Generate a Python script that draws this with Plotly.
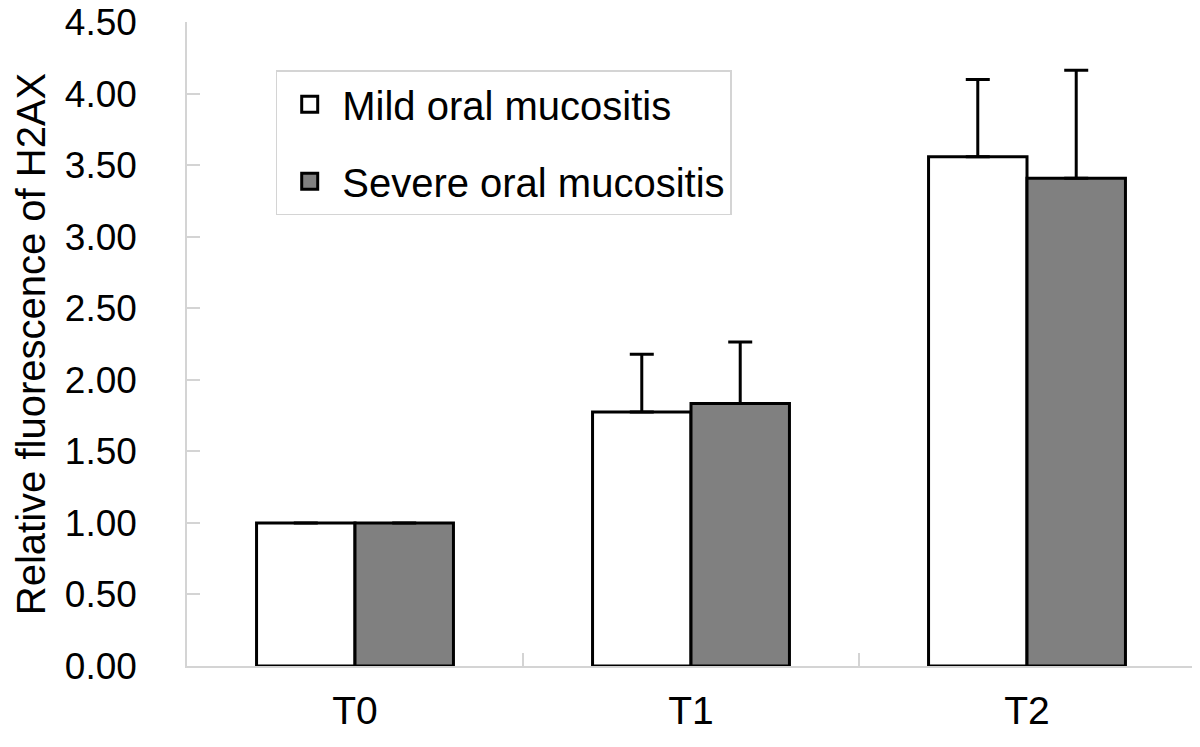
"""Relative fluorescence of H2AX by time point and mucositis severity."""

import plotly.graph_objects as go

TIME_POINTS = ["T0", "T1", "T2"]
MILD_MEAN = [1.00, 1.775, 3.56]
MILD_SD = [0.0, 0.405, 0.54]
SEVERE_MEAN = [1.00, 1.835, 3.41]
SEVERE_SD = [0.0, 0.43, 0.755]
Y_TICKS = [0.0, 0.5, 1.0, 1.5, 2.0, 2.5, 3.0, 3.5, 4.0, 4.5]

FONT = "Liberation Sans, Arial, sans-serif"
AXIS_GREY = "#d4d4d4"
BAR_GREY = "#808080"


def bar_trace(name, means, sds, fill):
    return go.Bar(
        x=TIME_POINTS,
        y=means,
        name=name,
        showlegend=False,
        marker=dict(color=fill, line=dict(color="black", width=3)),
        error_y=dict(
            type="data",
            array=sds,
            arrayminus=[0] * len(sds),
            symmetric=False,
            color="black",
            thickness=3,
            width=12,
        ),
    )


def legend_trace(name, fill, group):
    # bar legend swatches are tiny, so use square markers for the legend
    return go.Scatter(
        x=[None],
        y=[None],
        mode="markers",
        name=name,
        legendgroup=group,
        marker=dict(
            symbol="square",
            size=16,
            color=fill,
            line=dict(color="black", width=3),
        ),
    )


fig = go.Figure()
fig.add_trace(bar_trace("Mild oral mucositis", MILD_MEAN, MILD_SD, "white"))
fig.add_trace(bar_trace("Severe oral mucositis", SEVERE_MEAN, SEVERE_SD, BAR_GREY))
fig.add_trace(legend_trace("Mild oral mucositis", "white", "mild"))
fig.add_trace(legend_trace("Severe oral mucositis", BAR_GREY, "severe"))

# the page body has an 8px margin, so the figure is 8px smaller on each side
fig.update_layout(
    width=1192,
    height=739,
    margin=dict(l=179, r=5, t=14, b=81),
    plot_bgcolor="white",
    paper_bgcolor="white",
    font=dict(family=FONT, size=37, color="black"),
    barmode="group",
    bargap=0.414,
    bargroupgap=0,
    legend=dict(
        x=0.088,
        y=0.925,
        xanchor="left",
        yanchor="top",
        bgcolor="white",
        bordercolor=AXIS_GREY,
        borderwidth=1.5,
        font=dict(size=40),
        tracegroupgap=22,
        itemsizing="trace",
        itemwidth=55,
    ),
)
fig.update_xaxes(
    type="category",
    automargin=False,
    showline=True,
    linecolor=AXIS_GREY,
    linewidth=1.5,
    showgrid=False,
    ticks="inside",
    tickson="boundaries",
    ticklen=13,
    tickcolor=AXIS_GREY,
    tickwidth=1.5,
    ticklabelstandoff=9,
    tickfont=dict(size=39),
)
fig.update_yaxes(
    range=[0, 4.502],
    automargin=False,
    tickvals=Y_TICKS,
    tickformat=".2f",
    ticklabeloverflow="allow",
    showline=True,
    linecolor=AXIS_GREY,
    linewidth=1.5,
    showgrid=False,
    zeroline=False,
    ticks="inside",
    ticklen=13,
    tickcolor=AXIS_GREY,
    tickwidth=1.5,
    ticklabelstandoff=41,
    tickfont=dict(size=37),
    title=dict(
        text="Relative fluorescence of H2AX",
        font=dict(size=40),
        standoff=7,
    ),
)

fig.write_html("out.html")
